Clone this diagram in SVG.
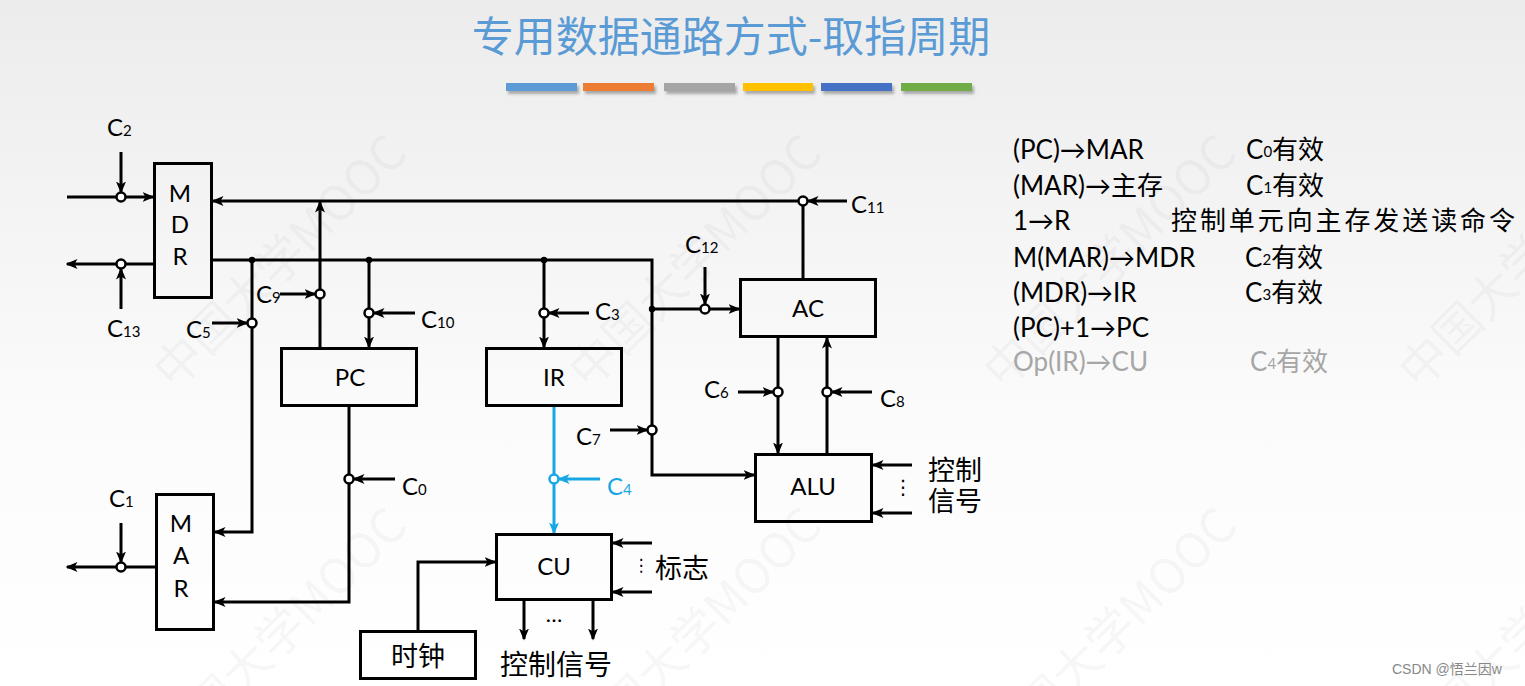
<svg xmlns="http://www.w3.org/2000/svg" width="1525" height="686" viewBox="0 0 1525 686">
<defs>
<linearGradient id="bg" x1="0" y1="0" x2="0" y2="1">
<stop offset="0" stop-color="#ececec"/>
<stop offset="0.6" stop-color="#fbfbfb"/>
<stop offset="1" stop-color="#ffffff"/>
</linearGradient>
<marker id="ah" markerUnits="userSpaceOnUse" markerWidth="12" markerHeight="10" viewBox="0 0 12 10" refX="10.5" refY="5" orient="auto">
<path d="M0,0 L12,5 L0,10 L3,5 z" fill="#000"/>
</marker>
<marker id="ahb" markerUnits="userSpaceOnUse" markerWidth="12" markerHeight="10" viewBox="0 0 12 10" refX="10.5" refY="5" orient="auto">
<path d="M0,0 L12,5 L0,10 L3,5 z" fill="#16a7e4"/>
</marker>
<filter id="sh" x="-10%" y="-100%" width="120%" height="300%">
<feDropShadow dx="2" dy="3" stdDeviation="1.5" flood-color="#000" flood-opacity="0.3"/>
</filter>
</defs>
<style>
.ln{stroke:#000;stroke-width:3;fill:none}
.a{marker-end:url(#ah)}
.bln{stroke:#16a7e4;stroke-width:3;fill:none;marker-end:url(#ahb)}
.box{fill:none;stroke:#000;stroke-width:3}
.sw{fill:#fff;stroke:#000;stroke-width:2.5}
.dot{fill:#000}
.lbl{font-family:Lato,"Noto Sans CJK SC",sans-serif;font-size:24px;fill:#000}
.sub{font-size:15px}
.bl{font-family:Lato,"Noto Sans CJK SC",sans-serif;font-size:24px;text-anchor:middle;fill:#000}
.cjk{font-family:"Noto Sans CJK SC",sans-serif;font-size:27px;fill:#000}
.pn{font-family:Lato,"Noto Sans CJK SC",sans-serif;font-size:26px;fill:#000}
.psub{font-size:15px}
.wm{font-family:"Noto Sans CJK SC",sans-serif;font-size:48px;fill:#000;fill-opacity:0.05}
</style>
<rect x="0" y="0" width="1525" height="686" fill="url(#bg)"/>

<g id="watermark">
<text class="wm" x="-241" y="391" transform="rotate(-45 -241 391)">中国大学MOOC</text>
<text class="wm" x="174" y="391" transform="rotate(-45 174 391)">中国大学MOOC</text>
<text class="wm" x="589" y="391" transform="rotate(-45 589 391)">中国大学MOOC</text>
<text class="wm" x="1004" y="391" transform="rotate(-45 1004 391)">中国大学MOOC</text>
<text class="wm" x="1419" y="391" transform="rotate(-45 1419 391)">中国大学MOOC</text>
<text class="wm" x="-241" y="764" transform="rotate(-45 -241 764)">中国大学MOOC</text>
<text class="wm" x="174" y="764" transform="rotate(-45 174 764)">中国大学MOOC</text>
<text class="wm" x="589" y="764" transform="rotate(-45 589 764)">中国大学MOOC</text>
<text class="wm" x="1004" y="764" transform="rotate(-45 1004 764)">中国大学MOOC</text>
<text class="wm" x="1419" y="764" transform="rotate(-45 1419 764)">中国大学MOOC</text>
</g>

<g id="title">
<text x="731" y="52" text-anchor="middle" font-family="'Noto Sans CJK SC',sans-serif" font-size="42" fill="#5b9bd5">专用数据通路方式-取指周期</text>
<g filter="url(#sh)">
<rect x="506" y="83" width="71" height="8" fill="#5b9bd5"/>
<rect x="583" y="83" width="71" height="8" fill="#ed7d31"/>
<rect x="664" y="83" width="71" height="8" fill="#a5a5a5"/>
<rect x="743" y="83" width="70" height="8" fill="#ffc000"/>
<rect x="821" y="83" width="71" height="8" fill="#4472c4"/>
<rect x="901" y="83" width="71" height="8" fill="#70ad47"/>
</g>
</g>

<g id="connectors">
<line class="ln a" x1="67" y1="197" x2="153" y2="197"/>
<line class="ln a" x1="121" y1="152" x2="121" y2="192"/>
<line class="ln a" x1="153" y1="264" x2="67" y2="264"/>
<line class="ln a" x1="121" y1="309" x2="121" y2="269"/>
<line class="ln a" x1="803" y1="201" x2="213" y2="201"/>
<line class="ln" x1="803" y1="278" x2="803" y2="201"/>
<line class="ln a" x1="847" y1="201" x2="808" y2="201"/>
<line class="ln a" x1="320" y1="347" x2="320" y2="202"/>
<line class="ln a" x1="280" y1="294" x2="315" y2="294"/>
<polyline class="ln a" points="213,260 652,260 652,475 754,475"/>
<polyline class="ln a" points="252,260 252,532 215,532"/>
<line class="ln a" x1="212" y1="323" x2="247" y2="323"/>
<line class="ln a" x1="369" y1="260" x2="369" y2="347"/>
<line class="ln a" x1="415" y1="313" x2="374" y2="313"/>
<line class="ln a" x1="544" y1="260" x2="544" y2="347"/>
<line class="ln a" x1="589" y1="313" x2="549" y2="313"/>
<line class="ln a" x1="652" y1="309" x2="739" y2="309"/>
<line class="ln a" x1="705" y1="267" x2="705" y2="304"/>
<line class="ln a" x1="610" y1="430" x2="647" y2="430"/>
<line class="ln a" x1="778" y1="338" x2="778" y2="453"/>
<line class="ln a" x1="738" y1="392" x2="773" y2="392"/>
<line class="ln a" x1="827" y1="453" x2="827" y2="338"/>
<line class="ln a" x1="872" y1="392" x2="832" y2="392"/>
<line class="ln a" x1="912" y1="465" x2="873" y2="465"/>
<line class="ln a" x1="912" y1="513" x2="873" y2="513"/>
<polyline class="ln a" points="349,407 349,602 215,602"/>
<line class="ln a" x1="395" y1="479" x2="354" y2="479"/>
<line class="bln" x1="554" y1="407" x2="554" y2="533"/>
<line class="bln" x1="600" y1="479" x2="559" y2="479"/>
<line class="ln a" x1="155" y1="567" x2="67" y2="567"/>
<line class="ln a" x1="121" y1="523" x2="121" y2="562"/>
<polyline class="ln a" points="418,630 418,562 495,562"/>
<line class="ln a" x1="524" y1="601" x2="524" y2="639"/>
<line class="ln a" x1="593" y1="601" x2="593" y2="639"/>
<line class="ln a" x1="652" y1="543" x2="613" y2="543"/>
<line class="ln a" x1="652" y1="592" x2="613" y2="592"/>
<circle class="dot" cx="252" cy="260" r="3.2"/>
<circle class="dot" cx="369" cy="260" r="3.2"/>
<circle class="dot" cx="544" cy="260" r="3.2"/>
<circle class="dot" cx="652" cy="309" r="3.2"/>
<circle class="sw" cx="121" cy="197" r="4.5"/>
<circle class="sw" cx="121" cy="264" r="4.5"/>
<circle class="sw" cx="803" cy="201" r="4.5"/>
<circle class="sw" cx="320" cy="294" r="4.5"/>
<circle class="sw" cx="252" cy="323" r="4.5"/>
<circle class="sw" cx="369" cy="313" r="4.5"/>
<circle class="sw" cx="544" cy="313" r="4.5"/>
<circle class="sw" cx="705" cy="309" r="4.5"/>
<circle class="sw" cx="652" cy="430" r="4.5"/>
<circle class="sw" cx="778" cy="392" r="4.5"/>
<circle class="sw" cx="827" cy="392" r="4.5"/>
<circle class="sw" cx="349" cy="479" r="4.5"/>
<circle class="sw" cx="554" cy="479" r="4.5" style="stroke:#16a7e4"/>
<circle class="sw" cx="121" cy="567" r="4.5"/>
</g>

<g id="control-labels">
<text class="lbl" x="107" y="136">C<tspan class="sub">2</tspan></text>
<text class="lbl" x="107" y="337">C<tspan class="sub">13</tspan></text>
<text class="lbl" x="186" y="338">C<tspan class="sub">5</tspan></text>
<text class="lbl" x="256" y="303">C<tspan class="sub">9</tspan></text>
<text class="lbl" x="421" y="328">C<tspan class="sub">10</tspan></text>
<text class="lbl" x="595" y="320">C<tspan class="sub">3</tspan></text>
<text class="lbl" x="851" y="213">C<tspan class="sub">11</tspan></text>
<text class="lbl" x="685" y="253">C<tspan class="sub">12</tspan></text>
<text class="lbl" x="704" y="398">C<tspan class="sub">6</tspan></text>
<text class="lbl" x="880" y="407">C<tspan class="sub">8</tspan></text>
<text class="lbl" x="576" y="445">C<tspan class="sub">7</tspan></text>
<text class="lbl" x="402" y="495">C<tspan class="sub">0</tspan></text>
<text class="lbl" x="607" y="495" style="fill:#16a7e4">C<tspan class="sub">4</tspan></text>
<text class="lbl" x="109" y="507">C<tspan class="sub">1</tspan></text>
<text class="cjk" x="928" y="480">控制<tspan x="928" y="511">信号</tspan></text>
<text x="903" y="494" text-anchor="middle" font-family="'DejaVu Sans',sans-serif" font-size="20">⋮</text>
<text class="cjk" x="655" y="578">标志</text>
<text x="641" y="571" text-anchor="middle" font-family="'DejaVu Sans',sans-serif" font-size="17">⋮</text>
<text x="554" y="622" text-anchor="middle" font-family="Lato,sans-serif" font-size="22">…</text>
<text class="cjk" x="556" y="675" text-anchor="middle" style="font-size:28px">控制信号</text>
</g>

<g id="MDR">
<rect class="box" x="154.5" y="163.5" width="57" height="134"/>
<text class="bl" x="180" y="202">M</text>
<text class="bl" x="180" y="233">D</text>
<text class="bl" x="180" y="265">R</text>
</g>
<g id="MAR">
<rect class="box" x="156.5" y="494.5" width="57" height="135"/>
<text class="bl" x="181" y="532">M</text>
<text class="bl" x="181" y="564">A</text>
<text class="bl" x="181" y="597">R</text>
</g>
<g id="PC">
<rect class="box" x="281.5" y="348.5" width="135" height="57"/>
<text class="bl" x="350" y="386">PC</text>
</g>
<g id="IR">
<rect class="box" x="486.5" y="348.5" width="135" height="57"/>
<text class="bl" x="554" y="386">IR</text>
</g>
<g id="AC">
<rect class="box" x="740.5" y="279.5" width="135" height="57"/>
<text class="bl" x="808" y="317">AC</text>
</g>
<g id="ALU">
<rect class="box" x="755.5" y="454.5" width="116" height="67"/>
<text class="bl" x="813" y="495">ALU</text>
</g>
<g id="CU">
<rect class="box" x="496.5" y="534.5" width="115" height="65"/>
<text class="bl" x="554" y="575">CU</text>
</g>
<g id="clock">
<rect class="box" x="360.5" y="631.5" width="115" height="47"/>
<text class="cjk" x="418" y="666" text-anchor="middle">时钟</text>
</g>

<g id="steps">
<text class="pn" x="1013" y="159">(PC)→MAR</text>
<text class="pn" x="1246" y="159">C<tspan class="psub" dy="-2">0</tspan><tspan dy="2">有效</tspan></text>
<text class="pn" x="1013" y="195">(MAR)→主存</text>
<text class="pn" x="1246" y="195">C<tspan class="psub" dy="-2">1</tspan><tspan dy="2">有效</tspan></text>
<text class="pn" x="1013" y="230">1→R</text>
<text class="pn" x="1171" y="230" textLength="344" lengthAdjust="spacing">控制单元向主存发送读命令</text>
<text class="pn" x="1013" y="267">M(MAR)→MDR</text>
<text class="pn" x="1245" y="267">C<tspan class="psub" dy="-2">2</tspan><tspan dy="2">有效</tspan></text>
<text class="pn" x="1013" y="302">(MDR)→IR</text>
<text class="pn" x="1245" y="302">C<tspan class="psub" dy="-2">3</tspan><tspan dy="2">有效</tspan></text>
<text class="pn" x="1013" y="337">(PC)+1→PC</text>
<text class="pn" x="1013" y="371" style="fill:#a6a6a6">Op(IR)→CU</text>
<text class="pn" x="1250" y="371" style="fill:#a6a6a6">C<tspan class="psub" dy="-2">4</tspan><tspan dy="2">有效</tspan></text>
</g>

<text x="1392" y="674" font-family="'Liberation Sans','Noto Sans CJK SC',sans-serif" font-size="14" fill="#888">CSDN @悟兰因w</text>
</svg>
